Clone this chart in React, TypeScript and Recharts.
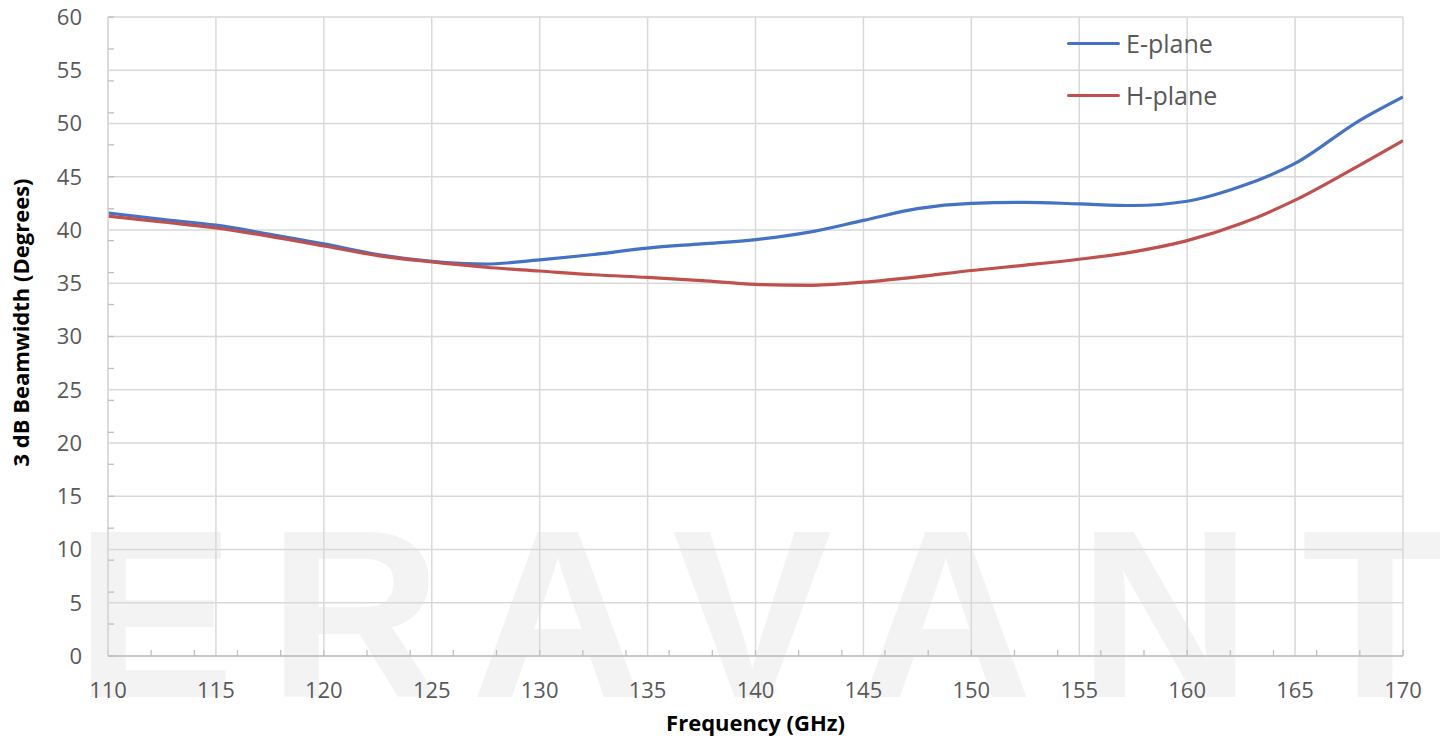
import React from 'react';
import { LineChart, Line, XAxis, YAxis, CartesianGrid, Legend, Label } from 'recharts';

const frequencies = [110, 112.5, 115, 117.5, 120, 122.5, 125, 127.5, 130, 132.5, 135, 137.5, 140, 142.5, 145, 147.5, 150, 152.5, 155, 157.5, 160, 162.5, 165, 168, 170];
const ePlane = [41.6, 41.0, 40.45, 39.6, 38.7, 37.7, 37.05, 36.8, 37.2, 37.7, 38.3, 38.7, 39.1, 39.8, 40.9, 42.0, 42.5, 42.6, 42.45, 42.3, 42.7, 44.1, 46.25, 50.3, 52.5];
const hPlane = [41.3, 40.75, 40.2, 39.4, 38.5, 37.6, 37.0, 36.5, 36.15, 35.8, 35.55, 35.25, 34.9, 34.8, 35.1, 35.6, 36.2, 36.7, 37.25, 37.95, 39.0, 40.6, 42.8, 46.1, 48.4];

const xTicks = [110, 115, 120, 125, 130, 135, 140, 145, 150, 155, 160, 165, 170];
const yTicks = [0, 5, 10, 15, 20, 25, 30, 35, 40, 45, 50, 55, 60];
const xMinorTicks = Array.from({ length: 61 }, (_, i) => 110 + i);
const yMinorTicks = Array.from({ length: 61 }, (_, i) => i);

const seriesNames = ['E-plane', 'H-plane'];
const seriesColors = ['#4472C4', '#C0504D'];

const xTitle = 'Frequency (GHz)';
const yTitle = '3 dB Beamwidth (Degrees)';
const watermarkLetters = ['E', 'R', 'A', 'V', 'A', 'N', 'T'];
const watermarkCenters = [155, 355, 558, 752, 946, 1165, 1375];

const data = frequencies.map((f, i) => ({ f, e: ePlane[i], h: hPlane[i] }));

const FONT = "'Open Sans', 'Noto Sans', sans-serif";
const TEXT = '#595959';

const EmptyTick = () => <g />;

const YTitle = (props: any) => {
  const vb = props.viewBox || { x: 0, y: 0, width: 0, height: 0 };
  const cx = vb.x + 20;
  const cy = vb.y + vb.height / 2 - 14;
  return (
    <text
      x={cx}
      y={cy}
      transform={`rotate(-90 ${cx} ${cy})`}
      textAnchor="middle"
      dominantBaseline="central"
      fontFamily={FONT}
      fontWeight={700}
      fontSize={22}
      fill="#000"
    >
      {yTitle}
    </text>
  );
};

const XTitle = (props: any) => {
  const vb = props.viewBox || { x: 0, y: 0, width: 0, height: 0 };
  return (
    <text
      x={vb.x + vb.width / 2}
      y={vb.y + 75}
      textAnchor="middle"
      fontFamily={FONT}
      fontWeight={700}
      fontSize={22}
      fill="#000"
    >
      {xTitle}
    </text>
  );
};

const LegendContent = (props: any) => {
  const payload = props.payload || [];
  return (
    <div style={{ fontFamily: FONT }}>
      {payload.map((p: any, i: number) => (
        <div key={i} style={{ display: 'flex', alignItems: 'center', height: 52 }}>
          <div style={{ width: 53, height: 3, background: p.color, borderRadius: 2, marginRight: 6 }} />
          <span style={{ fontSize: 25, color: TEXT, lineHeight: '25px' }}>{p.value}</span>
        </div>
      ))}
    </div>
  );
};

export default function App() {
  return (
    <div style={{ position: 'absolute', left: 0, top: 0, width: 1440, height: 740, background: '#fff', overflow: 'hidden' }}>
      <svg width={1440} height={740} style={{ position: 'absolute', left: 0, top: 0 }}>
        {watermarkLetters.map((l, i) => (
          <text
            key={i}
            x={watermarkCenters[i]}
            y={697}
            textAnchor="middle"
            fontFamily="'Liberation Sans', Arial, sans-serif"
            fontWeight={700}
            fontSize={240}
            fill="#f3f3f3"
          >
            {l}
          </text>
        ))}
      </svg>
      <div style={{ position: 'absolute', left: 0, top: 0 }}>
        <LineChart width={1440} height={740} data={data} margin={{ top: 17, right: 37, left: 0, bottom: 0 }}>
          <CartesianGrid stroke="#d9d9d9" strokeWidth={1.5} />
          <XAxis
            dataKey="f"
            type="number"
            domain={[110, 170]}
            ticks={xTicks}
            allowDataOverflow
            height={84}
            tickSize={0}
            tickMargin={26}
            tickLine={false}
            axisLine={{ stroke: '#bfbfbf', strokeWidth: 1.5 }}
            tick={{ fontFamily: FONT, fontSize: 22, fill: TEXT }}
          >
            <Label content={<XTitle />} />
          </XAxis>
          <XAxis
            xAxisId="minor"
            dataKey="f"
            type="number"
            domain={[110, 170]}
            ticks={xMinorTicks}
            allowDataOverflow
            mirror
            height={20}
            tickSize={6}
            axisLine={false}
            tickLine={{ stroke: '#bfbfbf', strokeWidth: 1.3 }}
            tick={<EmptyTick />}
          />
          <YAxis
            type="number"
            domain={[0, 60]}
            ticks={yTicks}
            allowDataOverflow
            width={108}
            tickSize={0}
            tickMargin={26}
            tickLine={false}
            axisLine={{ stroke: '#d9d9d9', strokeWidth: 1.5 }}
            tick={{ fontFamily: FONT, fontSize: 22, fill: TEXT }}
          >
            <Label content={<YTitle />} />
          </YAxis>
          <YAxis
            yAxisId="minor"
            type="number"
            domain={[0, 60]}
            ticks={yMinorTicks}
            allowDataOverflow
            mirror
            width={20}
            tickSize={6}
            axisLine={false}
            tickLine={{ stroke: '#bfbfbf', strokeWidth: 1.3 }}
            tick={<EmptyTick />}
          />
          <Legend
            layout="vertical"
            align="center"
            verticalAlign="middle"
            content={<LegendContent />}
            wrapperStyle={{ left: 1067, top: 17, width: 'auto' }}
          />
          <Line type="monotone" dataKey="e" name={seriesNames[0]} stroke={seriesColors[0]} strokeWidth={3.2} dot={false} isAnimationActive={false} />
          <Line type="monotone" dataKey="h" name={seriesNames[1]} stroke={seriesColors[1]} strokeWidth={3.2} dot={false} isAnimationActive={false} />
        </LineChart>
      </div>
    </div>
  );
}
